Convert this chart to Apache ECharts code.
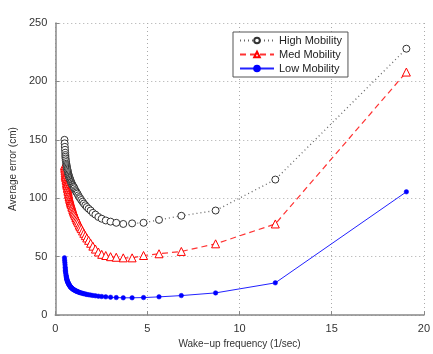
<!DOCTYPE html>
<html>
<head>
<meta charset="utf-8">
<script src="https://cdn.jsdelivr.net/npm/echarts@6/dist/echarts.min.js"></script>
<style>
  html, body { margin: 0; padding: 0; background: #fff; }
  #chart { width: 433px; height: 354px; }
</style>
</head>
<body>
<div id="chart"></div>
<script>
'use strict';

// wake-up frequency (1/sec), shared by all three series
var freq = [
    0.50, 0.51, 0.52, 0.53, 0.54, 0.55, 0.55, 0.56, 0.57, 0.59,
    0.60, 0.61, 0.62, 0.63, 0.64, 0.66, 0.67, 0.69, 0.70, 0.72,
    0.73, 0.75, 0.77, 0.79, 0.81, 0.83, 0.85, 0.87, 0.90, 0.92,
    0.95, 0.98, 1.01, 1.04, 1.08, 1.12, 1.16, 1.20, 1.25, 1.30,
    1.35, 1.41, 1.48, 1.55, 1.63, 1.71, 1.81, 1.92, 2.04, 2.18,
    2.34, 2.52, 2.74, 3.00, 3.31, 3.69, 4.17, 4.79, 5.63, 6.84,
    8.70, 11.94, 19.05
];

var highMobility = [
    150, 147, 144, 141.5, 139, 137, 135.5, 134, 132.5, 131,
    129.5, 128.5, 127.5, 126.5, 125.5, 124.5, 123.5, 122.5, 121.5, 120.5,
    119.5, 118.5, 117.5, 117, 116, 115, 114, 113.5, 112.5, 111.5,
    111, 110, 109.5, 108.5, 107, 106, 105, 104, 102.5, 101,
    100, 98.5, 97, 95.5, 94, 92.5, 91, 89.5, 87.5, 86,
    84, 82.5, 81, 80, 79, 78, 78.5, 79, 81.5, 85,
    89.5, 116, 228
];

var medMobility = [
    128, 126.5, 125, 123.5, 122, 120.5, 119.5, 118.5, 117.5, 116,
    115, 113.5, 112.5, 111.5, 110.5, 109, 108, 106.5, 105.5, 104,
    103, 101.5, 100, 99, 97.5, 96.5, 95.5, 94.5, 93, 92,
    90.5, 89, 88, 86.5, 85, 83.5, 82, 80.5, 79, 77,
    75.5, 74, 72, 70, 68, 66, 64, 61.5, 59, 56.5,
    54, 52, 51, 50, 49.5, 49, 49, 51, 52.5, 54.5,
    61, 78, 208
];

var lowMobility = [
    49, 47, 45, 43, 41, 39.5, 38, 37, 35.5, 34,
    33, 32, 31, 30.5, 30, 29, 28.5, 28, 27.5, 27,
    26.5, 26, 25.5, 25, 24.5, 24, 23.8, 23.5, 23, 22.7,
    22.3, 22, 21.7, 21.4, 21, 20.7, 20.4, 20.1, 19.8, 19.5,
    19.2, 18.9, 18.6, 18.3, 18, 17.7, 17.4, 17.1, 16.8, 16.5,
    16.2, 15.9, 15.6, 15.3, 15, 14.8, 14.8, 15, 15.6, 16.7,
    19, 27.6, 105.5
];

var seriesNames = ['High Mobility', 'Med Mobility', 'Low Mobility'];

function pairs(values) {
    return freq.map(function(f, i) {
        return [f, values[i]];
    });
}

var chart = echarts.init(document.getElementById('chart'));

var axisFont = { fontFamily: 'Liberation Sans', fontSize: 11, color: '#333' };
var gridLine = { show: true, lineStyle: { type: [1, 3], color: '#aaa' } };

var option = {
    animation: false,
    backgroundColor: '#fff',
    grid: { left: 48, right: 3, top: 23, bottom: 32 },
    legend: {
        left: 233,
        top: 32,
        orient: 'vertical',
        data: seriesNames,
        backgroundColor: '#fff',
        borderColor: '#555',
        borderWidth: 1,
        padding: [3, 6, 3, 6],
        itemWidth: 34,
        itemHeight: 7,
        itemGap: 3,
        textStyle: { fontFamily: 'Liberation Sans', fontSize: 11, color: '#222' }
    },
    xAxis: {
        type: 'value',
        min: 0,
        max: 20,
        interval: 5,
        name: 'Wake\u2212up frequency (1/sec)',
        nameLocation: 'middle',
        nameGap: 23,
        nameTextStyle: { fontFamily: 'Liberation Sans', fontSize: 10, color: '#333' },
        axisLine: { lineStyle: { color: '#888', width: 1.5 } },
        axisTick: { inside: true, length: 4, lineStyle: { color: '#888' } },
        axisLabel: axisFont,
        splitLine: gridLine
    },
    yAxis: {
        type: 'value',
        min: 0,
        max: 250,
        interval: 50,
        name: 'Average error (cm)',
        nameLocation: 'middle',
        nameGap: 30,
        nameTextStyle: { fontFamily: 'Liberation Sans', fontSize: 10, color: '#333' },
        axisLine: { show: true, lineStyle: { color: '#888', width: 1.5 } },
        axisTick: { show: true, inside: true, length: 4, lineStyle: { color: '#888' } },
        axisLabel: axisFont,
        splitLine: gridLine
    },
    series: [{
        name: seriesNames[0],
        type: 'line',
        data: pairs(highMobility),
        symbol: 'circle',
        symbolSize: 7,
        showAllSymbol: true,
        itemStyle: { color: '#fff', borderColor: '#333', borderWidth: 1 },
        lineStyle: { type: [1, 3], color: '#666', width: 1.3 },
        z: 3
    }, {
        name: seriesNames[1],
        type: 'line',
        data: pairs(medMobility),
        symbol: 'triangle',
        symbolSize: 8,
        showAllSymbol: true,
        itemStyle: { color: '#fff', borderColor: '#f00', borderWidth: 1 },
        lineStyle: { type: [6, 4], color: '#f33', width: 1.2 },
        z: 2
    }, {
        name: seriesNames[2],
        type: 'line',
        data: pairs(lowMobility),
        symbol: 'circle',
        symbolSize: 4.5,
        showAllSymbol: true,
        itemStyle: { color: '#00f', borderColor: '#00f', borderWidth: 0.5 },
        lineStyle: { type: 'solid', color: '#22f', width: 1 },
        z: 1
    }]
};

chart.setOption(option);
</script>
</body>
</html>
